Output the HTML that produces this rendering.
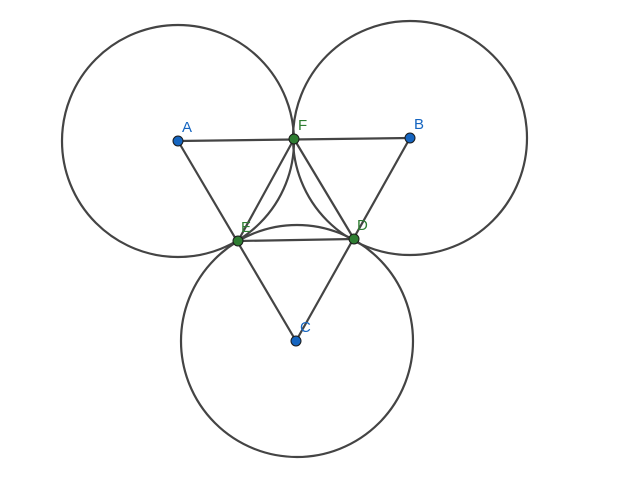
<!DOCTYPE html>
<html><head><meta charset="utf-8"><style>html,body{margin:0;padding:0;background:#fff;}svg{display:block}</style></head>
<body>
<svg width="640" height="486" viewBox="0 0 640 486" xmlns="http://www.w3.org/2000/svg">
<g fill="none" stroke="#444" stroke-width="2.2">
<circle cx="178" cy="141" r="116"/>
<circle cx="410" cy="138" r="117"/>
<circle cx="297" cy="341" r="116"/>
<line x1="178" y1="141" x2="410" y2="138"/>
<line x1="178" y1="141" x2="296" y2="341"/>
<line x1="410" y1="138" x2="296" y2="341"/>
<line x1="294" y1="139" x2="238" y2="241"/>
<line x1="294" y1="139" x2="354" y2="239"/>
<line x1="238" y1="241" x2="354" y2="239"/>
</g>
<g stroke="#1a1a1a" stroke-width="1">
<circle cx="178" cy="141" r="5" fill="#1565c0"/>
<circle cx="410" cy="138" r="5" fill="#1565c0"/>
<circle cx="296" cy="341" r="5" fill="#1565c0"/>
<circle cx="294" cy="139" r="5" fill="#2e7d32"/>
<circle cx="238" cy="241" r="5" fill="#2e7d32"/>
<circle cx="354" cy="239" r="5" fill="#2e7d32"/>
</g>
<g font-family="Liberation Sans, sans-serif" font-size="15">
<text x="182" y="132" fill="#1565c0">A</text>
<text x="414" y="129" fill="#1565c0">B</text>
<text x="300" y="332" fill="#1565c0">C</text>
<text x="298" y="130" fill="#2e7d32">F</text>
<text x="241" y="232" fill="#2e7d32">E</text>
<text x="357" y="230" fill="#2e7d32">D</text>
</g>
</svg>
</body></html>
